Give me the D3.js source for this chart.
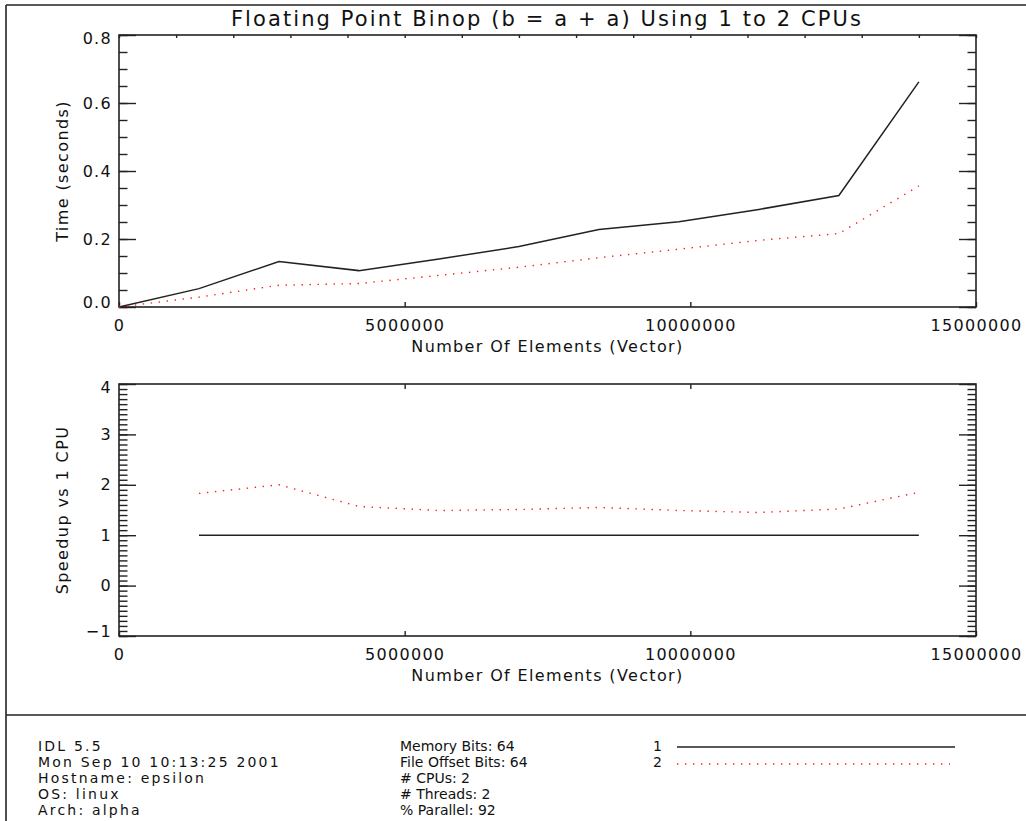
<!DOCTYPE html>
<html>
<head>
<meta charset="utf-8">
<script src="https://cdn.jsdelivr.net/npm/d3@7/dist/d3.min.js"></script>
<style>
  html, body { margin: 0; padding: 0; background: #ffffff; }
  svg { display: block; }
  text { font-family: "DejaVu Sans", sans-serif; fill: #111; }
</style>
</head>
<body>
<svg id="chart" width="1026" height="821"></svg>
<script>
// Vector sizes used for each timing run
const elements = [0, 1400000, 2800000, 4200000, 5600000, 7000000, 8400000, 9800000, 11200000, 12600000, 14000000];
// Elapsed time (seconds) for 1 and 2 CPUs
const time1 = [0.000, 0.054, 0.134, 0.107, 0.141, 0.178, 0.228, 0.251, 0.287, 0.328, 0.662];
const time2 = [0.000, 0.029, 0.064, 0.069, 0.093, 0.117, 0.145, 0.170, 0.196, 0.216, 0.356];
// Speedup relative to 1 CPU (first run, size 0, is skipped)
const speedElements = [1400000, 2800000, 4200000, 5600000, 7000000, 8400000, 9800000, 11200000, 12600000, 14000000];
const speedup1 = [1, 1, 1, 1, 1, 1, 1, 1, 1, 1];
const speedup2 = [1.83, 2.00, 1.57, 1.49, 1.51, 1.55, 1.49, 1.45, 1.52, 1.85];

const xTicks = [0, 5000000, 10000000, 15000000];
const timeTicks = [0.0, 0.2, 0.4, 0.6, 0.8];
const speedTicks = [-1, 0, 1, 2, 3, 4];

const title = "Floating Point Binop (b = a + a) Using 1 to 2 CPUs";
const xTitle = "Number Of Elements (Vector)";
const timeTitle = "Time (seconds)";
const speedTitle = "Speedup vs 1 CPU";
const infoLeft = ["IDL 5.5", "Mon Sep 10 10:13:25 2001", "Hostname: epsilon", "OS: linux", "Arch: alpha"];
const infoRight = ["Memory Bits: 64", "File Offset Bits: 64", "# CPUs: 2", "# Threads: 2", "% Parallel: 92"];
const legendLabels = ["1", "2"];

const svg = d3.select("#chart");
const INK = "#222";
const RED = "#ff1a1a";

// page frame
svg.append("line").attr("x1", 6).attr("y1", 5).attr("x2", 6).attr("y2", 821)
  .attr("stroke", INK).attr("stroke-width", 1.6);
svg.append("line").attr("x1", 6).attr("y1", 5).attr("x2", 1026).attr("y2", 5)
  .attr("stroke", INK).attr("stroke-width", 1.6);
svg.append("line").attr("x1", 6).attr("y1", 715).attr("x2", 1026).attr("y2", 715)
  .attr("stroke", INK).attr("stroke-width", 1.6);

// title
svg.append("text").attr("x", 547).attr("y", 26).attr("text-anchor", "middle")
  .style("font-size", "21px").style("letter-spacing", "2.1px").text(title);

const X0 = 119, X1 = 976;

function panel(opts) {
  const { top, bottom, yDomain, yTicks, yMinorStep, yFormat, topMinor, yLabel, xLabelY } = opts;
  const x = d3.scaleLinear().domain([0, 15000000]).range([X0, X1]);
  const y = d3.scaleLinear().domain(yDomain).range([bottom, top]);
  const g = svg.append("g");

  const minorVals = d3.range(Math.round((yDomain[1] - yDomain[0]) / yMinorStep) + 1)
    .map(i => yDomain[0] + i * yMinorStep);

  const style = sel => {
    sel.select(".domain").remove();
    sel.selectAll(".tick line").attr("stroke", INK).attr("stroke-width", 1.4);
    sel.selectAll("text").style("font-family", "DejaVu Sans, sans-serif")
      .style("font-size", "16px").style("letter-spacing", "1.3px").attr("fill", "#111");
  };

  // left: minor ticks, then major ticks with labels
  g.append("g").attr("transform", `translate(${X0},0)`)
    .call(d3.axisLeft(y).tickValues(minorVals).tickSizeInner(-8.5).tickSizeOuter(0).tickFormat(""))
    .call(style);
  const left = g.append("g").attr("transform", `translate(${X0},0)`)
    .call(d3.axisLeft(y).tickValues(yTicks).tickSizeInner(-17).tickSizeOuter(0).tickPadding(7).tickFormat(yFormat))
    .call(style);
  left.selectAll(".tick text").attr("dy", d =>
    d === yDomain[1] ? "0.55em" : d === yDomain[0] ? "0.05em" : "0.32em");

  // right: ticks only
  g.append("g").attr("transform", `translate(${X1},0)`)
    .call(d3.axisRight(y).tickValues(minorVals).tickSizeInner(-8.5).tickSizeOuter(0).tickFormat(""))
    .call(style);
  g.append("g").attr("transform", `translate(${X1},0)`)
    .call(d3.axisRight(y).tickValues(yTicks).tickSizeInner(-17).tickSizeOuter(0).tickFormat(""))
    .call(style);

  // top edge ticks
  const topVals = topMinor ? d3.range(0, 15000001, 1000000) : [5000000, 10000000];
  g.append("g").attr("transform", `translate(0,${top})`)
    .call(d3.axisTop(x).tickValues(topVals).tickSizeInner(topMinor ? -3 : -5).tickSizeOuter(0).tickFormat(""))
    .call(style);

  // bottom edge ticks with labels
  g.append("g").attr("transform", `translate(0,${bottom})`)
    .call(d3.axisBottom(x).tickValues(xTicks).tickSizeInner(-5).tickSizeOuter(0).tickPadding(13).tickFormat(d3.format("d")))
    .call(style);

  // plot frame
  g.append("rect").attr("x", X0).attr("y", top).attr("width", X1 - X0).attr("height", bottom - top)
    .attr("fill", "none").attr("stroke", INK).attr("stroke-width", 1.6);

  // axis titles
  g.append("text").attr("x", (X0 + X1) / 2).attr("y", xLabelY).attr("text-anchor", "middle")
    .style("font-size", "16px").style("letter-spacing", "1.35px").text(xTitle);
  g.append("text").attr("transform", `translate(68,${(top + bottom) / 2}) rotate(-90)`)
    .attr("text-anchor", "middle").style("font-size", "16px").style("letter-spacing", "1.4px").text(yLabel);

  return { x, y, g };
}

// upper panel: elapsed time
const p1 = panel({
  top: 35, bottom: 307, yDomain: [0, 0.8], yTicks: timeTicks, yMinorStep: 0.05,
  yFormat: d3.format(".1f"), topMinor: true, yLabel: timeTitle, xLabelY: 352
});
const line1 = d3.line().x((d, i) => p1.x(elements[i])).y(d => p1.y(d));
p1.g.append("path").datum(time1).attr("d", line1)
  .attr("fill", "none").attr("stroke", INK).attr("stroke-width", 1.5);
p1.g.append("path").datum(time2).attr("d", line1)
  .attr("fill", "none").attr("stroke", RED).attr("stroke-width", 1.4).attr("stroke-dasharray", "1.4,6.6");

// lower panel: speedup
const p2 = panel({
  top: 384, bottom: 636, yDomain: [-1, 4], yTicks: speedTicks, yMinorStep: 0.1,
  yFormat: d3.format("d"), topMinor: false, yLabel: speedTitle, xLabelY: 681
});
const line2 = d3.line().x((d, i) => p2.x(speedElements[i])).y(d => p2.y(d));
p2.g.append("path").datum(speedup1).attr("d", line2)
  .attr("fill", "none").attr("stroke", INK).attr("stroke-width", 1.5);
p2.g.append("path").datum(speedup2).attr("d", line2)
  .attr("fill", "none").attr("stroke", RED).attr("stroke-width", 1.4).attr("stroke-dasharray", "1.4,6.6");

// run information
const rowY = i => 751 + i * 16;
const info = svg.append("g").style("font-size", "14px");
info.selectAll("text.l").data(infoLeft).join("text").attr("class", "l")
  .attr("x", 38).attr("y", (d, i) => rowY(i)).style("letter-spacing", "2.2px").text(d => d);
info.selectAll("text.r").data(infoRight).join("text").attr("class", "r")
  .attr("x", 400).attr("y", (d, i) => rowY(i)).style("letter-spacing", "0px").text(d => d);

// legend
const legend = svg.append("g");
legend.selectAll("text").data(legendLabels).join("text")
  .attr("x", 653).attr("y", (d, i) => rowY(i)).style("font-size", "14px").text(d => d);
legend.append("line").attr("x1", 677).attr("x2", 955).attr("y1", rowY(0) - 4).attr("y2", rowY(0) - 4)
  .attr("stroke", INK).attr("stroke-width", 1.5);
legend.append("line").attr("x1", 677).attr("x2", 950).attr("y1", rowY(1) - 3).attr("y2", rowY(1) - 3)
  .attr("stroke", RED).attr("stroke-width", 1.4).attr("stroke-dasharray", "1.4,6.6");
</script>
</body>
</html>
